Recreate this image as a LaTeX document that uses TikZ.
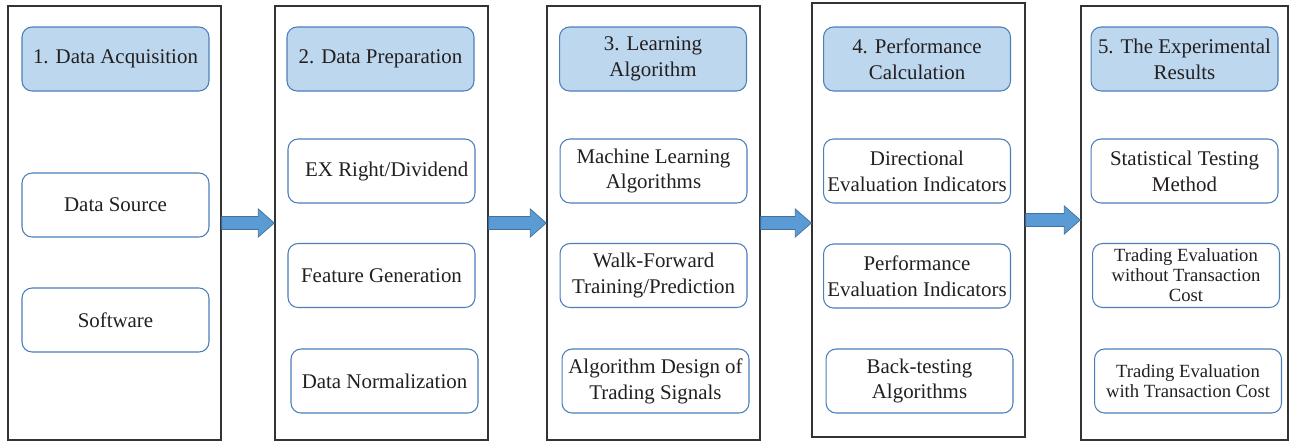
\documentclass[tikz,border=0pt]{standalone}
\usepackage{fontspec}
\setmainfont{Liberation Serif}
\usetikzlibrary{calc}

\definecolor{headblue}{HTML}{BDD7EE}
\definecolor{edgeblue}{HTML}{4A7EBB}
\definecolor{arrowblue}{HTML}{5B9BD5}
\definecolor{arrowedge}{HTML}{41719C}
\definecolor{ink}{HTML}{231F20}

\begin{document}
\begin{tikzpicture}[x=0.02cm, y=-0.02cm,
        panel/.style={
            % The shape:
            rectangle,
            % The size:
            minimum height=8.68cm,
            % The border
            draw=black!80,
            line width=0.8pt
        },
        box/.style={
            % The shape:
            rectangle,
            rounded corners=0.2cm,
            % The size:
            minimum width=3.74cm,
            minimum height=1.28cm,
            inner sep=1pt,
            % The border
            draw=edgeblue,
            line width=0.6pt,
            % The filling
            fill=white,
            % Font
            align=center,
            text=ink,
            font=\fontsize{11.9}{14.7}\selectfont
        },
        head/.style={box, fill=headblue},
        small/.style={font=\fontsize{10.6}{11.4}\selectfont},
        flow/.style={fill=arrowblue, draw=arrowedge, line width=0.4pt}]

    \useasboundingbox (0,0) rectangle (1290,441);

    % the five stages
    \foreach \name/\x/\y/\w in {p1/114.5/223/4.26cm, p2/381.5/223/4.26cm, p3/653.5/223/4.26cm, p4/918.5/220/4.26cm, p5/1184.5/223/4.14cm}
    {
        \node [panel, minimum width=\w] (\name) at (\x,\y) {};
    }

    % headers
    \node [head] (h1) at (115.5,59) {1. Data Acquisition};
    \node [head] (h2) at (380.5,59) {2. Data Preparation};
    \node [head] (h3) at (653,59) {3. Learning\\Algorithm};
    \node [head] (h4) at (917,59) {4. Performance\\Calculation};
    \node [head] (h5) at (1184.5,59) {5. The Experimental\\Results};

    % stage 1
    \node [box] (source) at (115.5,205) {Data Source};
    \node [box] (software) at (115.5,320) {Software};

    % stage 2
    \node [box] (exright) at (381.5,171) {\hspace{6pt}EX Right/Dividend};
    \node [box] (feature) at (381.5,275.5) {Feature Generation};
    \node [box] (normal) at (384.5,381) {Data Normalization};

    % stage 3
    \node [box] (mlalgo) at (653.5,171) {Machine Learning\\Algorithms};
    \node [box] (walkfwd) at (653.5,275.5) {Walk-Forward\\Training/Prediction};
    \node [box] (signals) at (655.5,381) {Algorithm Design of\\Trading Signals};

    % stage 4
    \node [box] (direval) at (917,171) {Directional\\Evaluation Indicators};
    \node [box] (perfeval) at (917,276) {Performance\\Evaluation Indicators};
    \node [box] (backtest) at (919.5,381) {Back-testing\\Algorithms};

    % stage 5
    \node [box] (stattest) at (1184.5,171) {Statistical Testing\\Method};
    \node [box, small] (nocost) at (1186,275.5) {Trading Evaluation\\without Transaction\\Cost};
    \node [box, small] (withcost) at (1188,381) {Trading Evaluation\\with Transaction Cost};

    % block arrows between the stages
    \foreach \a/\b in {p1/p2, p2/p3, p3/p4, p4/p5}
    {
        \draw [flow] ($(\a.east)+(0,-6.5)$) -- ($(\a.east -| \b.west)+(-16,-6.5)$)
            -- ($(\a.east -| \b.west)+(-16,-14)$) -- (\a.east -| \b.west)
            -- ($(\a.east -| \b.west)+(-16,14)$) -- ($(\a.east -| \b.west)+(-16,6.5)$)
            -- ($(\a.east)+(0,6.5)$) -- cycle;
    }

\end{tikzpicture}
\end{document}
